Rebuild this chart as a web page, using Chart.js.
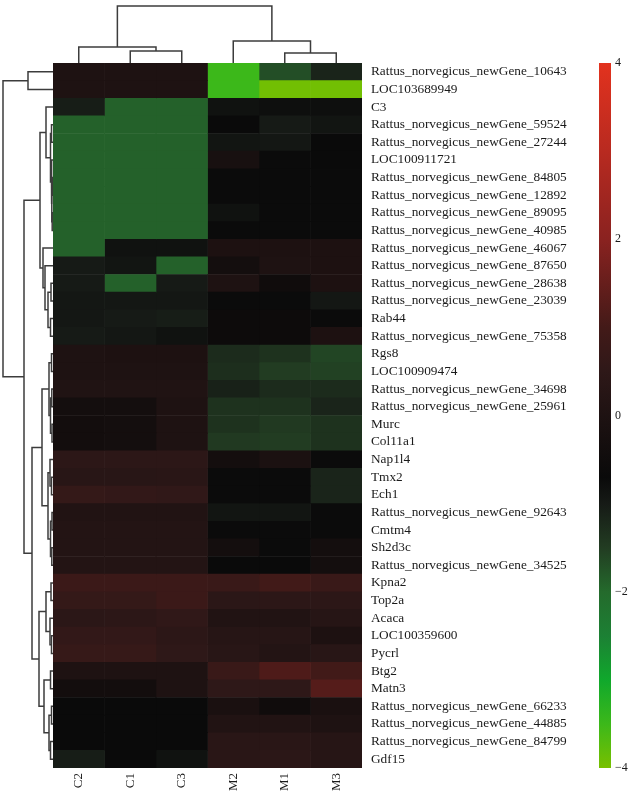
<!DOCTYPE html>
<html>
<head>
<meta charset="utf-8">
<script src="https://cdn.jsdelivr.net/npm/chart.js@4/dist/chart.umd.min.js"></script>
<style>
  html, body { margin: 0; padding: 0; background: #fff; }
  #wrap { position: relative; width: 629px; height: 791px; }
  canvas { position: absolute; }
</style>
</head>
<body>
<div id="wrap">
  <canvas id="heat" width="629" height="791" style="left:0;top:0"></canvas>
  <canvas id="rowDen" width="53" height="705" style="left:0;top:63px"></canvas>
  <canvas id="colDen" width="309" height="63" style="left:53px;top:0"></canvas>
  <canvas id="cbar" width="39" height="730" style="left:590px;top:50px"></canvas>
</div>
<script>
// columns (samples) in dendrogram order
const colNames = ['C2', 'C1', 'C3', 'M2', 'M1', 'M3'];

// genes in dendrogram order
const rowNames = [
  'Rattus_norvegicus_newGene_10643', 'LOC103689949', 'C3',
  'Rattus_norvegicus_newGene_59524', 'Rattus_norvegicus_newGene_27244', 'LOC100911721',
  'Rattus_norvegicus_newGene_84805', 'Rattus_norvegicus_newGene_12892', 'Rattus_norvegicus_newGene_89095',
  'Rattus_norvegicus_newGene_40985', 'Rattus_norvegicus_newGene_46067', 'Rattus_norvegicus_newGene_87650',
  'Rattus_norvegicus_newGene_28638', 'Rattus_norvegicus_newGene_23039', 'Rab44',
  'Rattus_norvegicus_newGene_75358', 'Rgs8', 'LOC100909474',
  'Rattus_norvegicus_newGene_34698', 'Rattus_norvegicus_newGene_25961', 'Murc',
  'Col11a1', 'Nap1l4', 'Tmx2', 'Ech1', 'Rattus_norvegicus_newGene_92643',
  'Cmtm4', 'Sh2d3c', 'Rattus_norvegicus_newGene_34525', 'Kpna2', 'Top2a',
  'Acaca', 'LOC100359600', 'Pycrl', 'Btg2', 'Matn3',
  'Rattus_norvegicus_newGene_66233', 'Rattus_norvegicus_newGene_44885',
  'Rattus_norvegicus_newGene_84799', 'Gdf15'
];

// z-scores, one row per gene: C2, C1, C3, M2, M1, M3
const values = [
  [0.0, 0.0, 0.0, -3.5, -1.7, -1.15],
  [0.0, 0.0, 0.0, -3.5, -3.95, -3.95],
  [-1.05, -1.9, -1.9, -0.85, -0.8, -0.8],
  [-1.9, -1.9, -1.9, -0.7, -1.0, -0.9],
  [-1.9, -1.9, -1.9, -0.9, -0.95, -0.7],
  [-1.9, -1.9, -1.9, -0.2, -0.72, -0.7],
  [-1.9, -1.9, -1.9, -0.72, -0.72, -0.72],
  [-1.9, -1.9, -1.9, -0.72, -0.72, -0.72],
  [-1.9, -1.9, -1.9, -0.85, -0.72, -0.72],
  [-1.9, -1.9, -1.9, -0.72, -0.72, -0.72],
  [-1.9, -0.85, -0.85, -0.05, -0.05, -0.05],
  [-1.0, -0.9, -1.9, -0.35, 0.0, -0.05],
  [-1.0, -1.9, -1.0, 0.0, -0.5, -0.05],
  [-0.95, -0.95, -0.95, -0.72, -0.72, -0.95],
  [-0.95, -1.0, -1.05, -0.6, -0.6, -0.65],
  [-1.0, -0.95, -0.85, -0.6, -0.6, -0.05],
  [0.0, -0.05, -0.05, -1.25, -1.35, -1.6],
  [0.0, 0.0, 0.0, -1.3, -1.5, -1.55],
  [0.05, 0.05, 0.05, -1.1, -1.25, -1.25],
  [-0.35, -0.35, 0.0, -1.35, -1.35, -1.15],
  [-0.4, -0.35, 0.0, -1.35, -1.45, -1.35],
  [-0.4, -0.35, 0.0, -1.45, -1.5, -1.35],
  [0.45, 0.45, 0.45, -0.35, -0.1, -0.72],
  [0.3, 0.3, 0.35, -0.72, -0.72, -1.15],
  [0.65, 0.6, 0.55, -0.72, -0.72, -1.15],
  [0.1, 0.1, 0.1, -0.9, -0.9, -0.72],
  [0.15, 0.15, 0.15, -0.72, -0.72, -0.72],
  [0.15, 0.15, 0.15, -0.35, -0.72, -0.35],
  [0.15, 0.15, 0.15, -0.7, -0.7, -0.35],
  [0.8, 0.8, 0.8, 0.75, 0.95, 0.75],
  [0.65, 0.65, 0.8, 0.4, 0.45, 0.45],
  [0.4, 0.45, 0.55, 0.1, 0.1, 0.25],
  [0.6, 0.6, 0.45, 0.25, 0.25, -0.05],
  [0.7, 0.7, 0.5, 0.3, 0.15, 0.3],
  [0.0, 0.0, 0.0, 0.75, 1.15, 0.95],
  [-0.4, -0.4, 0.0, 0.5, 0.5, 1.25],
  [-0.7, -0.7, -0.7, -0.15, -0.5, -0.15],
  [-0.7, -0.7, -0.7, 0.1, 0.1, 0.0],
  [-0.7, -0.7, -0.7, 0.35, 0.35, 0.25],
  [-1.05, -0.7, -0.85, 0.35, 0.4, 0.25]
];

// linkage: [childA, childB, height]; ids >= n are earlier merges
const colLinkage = [
  [1, 2, 12], [0, 6, 16], [4, 5, 10], [3, 8, 22], [7, 9, 57]
];
const rowLinkage = [
  [6, 7, 0.5], [8, 9, 0.8], [40, 41, 1.2], [5, 42, 1.6], [3, 4, 1.5], [44, 43, 2.5], [2, 45, 7],
  [12, 13, 2], [14, 15, 2.5], [47, 48, 5], [11, 49, 8], [10, 50, 10], [46, 51, 13],
  [16, 17, 1.5], [18, 19, 1.2], [20, 21, 1], [54, 55, 2.5], [53, 56, 4],
  [23, 24, 1.5], [22, 58, 3], [25, 26, 1], [27, 28, 1.2], [60, 61, 2.5], [59, 62, 5], [57, 63, 11],
  [29, 30, 2], [32, 33, 1.5], [31, 66, 3], [65, 67, 7],
  [34, 35, 2.5], [36, 37, 1.5], [38, 39, 2.5], [70, 71, 4], [69, 72, 9], [68, 73, 14],
  [64, 74, 21], [52, 75, 29], [0, 1, 25], [77, 76, 50]
];

// colour scale
const cmapValues = [-4, -3.5, -3, -2.5, -2, -1.5, -1, -0.7, 0, 0.5, 1, 2, 3, 4];
const cmapColors = ['#78c000', '#3cb81a', '#10a82c', '#1c8034', '#246a2c', '#223c22', '#161a16',
  '#0a0a0a', '#1e1212', '#2e1818', '#431a18', '#8a2220', '#b82a20', '#e2321e'];
const cbarTicks = [-4, -2, 0, 2, 4];

const serif = '"Liberation Serif", "DejaVu Serif", serif';
const lineColor = '#3c3c3c';

function hexToRgb(h) {
  return [1, 3, 5].map(i => parseInt(h.slice(i, i + 2), 16));
}

function colorFor(v) {
  v = Math.max(cmapValues[0], Math.min(cmapValues[cmapValues.length - 1], v));
  for (let i = 0; i < cmapValues.length - 1; i++) {
    if (v <= cmapValues[i + 1]) {
      const t = (v - cmapValues[i]) / (cmapValues[i + 1] - cmapValues[i]);
      const a = hexToRgb(cmapColors[i]), b = hexToRgb(cmapColors[i + 1]);
      const c = a.map((x, k) => Math.round(x + (b[k] - x) * t));
      return `rgb(${c[0]},${c[1]},${c[2]})`;
    }
  }
  return cmapColors[cmapColors.length - 1];
}

// turn a linkage table into U-shaped segments (leaf position, height)
function dendroSegments(linkage, nLeaves) {
  const pos = [], height = [];
  for (let i = 0; i < nLeaves; i++) { pos[i] = i + 0.5; height[i] = 0; }
  return linkage.map(([a, b, h], k) => {
    const id = nLeaves + k;
    pos[id] = (pos[a] + pos[b]) / 2;
    height[id] = h;
    return [
      { p: pos[a], h: height[a] }, { p: pos[a], h: h },
      { p: pos[b], h: h }, { p: pos[b], h: height[b] }
    ];
  });
}

Chart.defaults.animation = false;
Chart.defaults.responsive = false;
Chart.defaults.devicePixelRatio = 1;
Chart.defaults.plugins.legend.display = false;
Chart.defaults.plugins.tooltip.enabled = false;

// heatmap: one floating-bar dataset per column
new Chart(document.getElementById('heat'), {
  type: 'bar',
  data: {
    labels: rowNames,
    datasets: colNames.map((name, c) => ({
      label: name,
      data: rowNames.map(() => [c, c + 1]),
      backgroundColor: values.map(r => colorFor(r[c])),
      borderWidth: 0,
      grouped: false,
      barPercentage: 1,
      categoryPercentage: 1
    }))
  },
  options: {
    indexAxis: 'y',
    layout: { padding: { left: 53, top: 63, right: 0, bottom: 0 } },
    scales: {
      y: {
        position: 'right',
        grid: { display: false, drawTicks: false },
        border: { display: false },
        ticks: { autoSkip: false, padding: 9, color: '#1a1a1a', font: { family: serif, size: 13.3 } },
        afterFit: s => { s.width = 267; }
      },
      x: {
        type: 'linear', min: 0, max: colNames.length,
        grid: { display: false, drawTicks: false },
        border: { display: false },
        afterBuildTicks: s => { s.ticks = colNames.map((_, i) => ({ value: i + 0.5 })); },
        ticks: {
          autoSkip: false, minRotation: 90, maxRotation: 90, padding: 5,
          color: '#1a1a1a', font: { family: serif, size: 13 },
          callback: v => colNames[Math.floor(v)]
        },
        afterFit: s => { s.height = 23; }
      }
    }
  }
});

const lineDataset = pts => ({
  data: pts, showLine: true, borderColor: lineColor, borderWidth: 1.5,
  pointRadius: 0, fill: false, tension: 0
});

// row dendrogram (left)
new Chart(document.getElementById('rowDen'), {
  type: 'scatter',
  data: {
    datasets: dendroSegments(rowLinkage, rowNames.length)
      .map(seg => lineDataset(seg.map(q => ({ x: q.h, y: q.p }))))
  },
  options: {
    scales: {
      x: { type: 'linear', min: 0, max: 53, reverse: true, display: false },
      y: { type: 'linear', min: 0, max: rowNames.length, reverse: true, display: false }
    }
  }
});

// column dendrogram (top)
new Chart(document.getElementById('colDen'), {
  type: 'scatter',
  data: {
    datasets: dendroSegments(colLinkage, colNames.length)
      .map(seg => lineDataset(seg.map(q => ({ x: q.p, y: q.h }))))
  },
  options: {
    scales: {
      x: { type: 'linear', min: 0, max: colNames.length, display: false },
      y: { type: 'linear', min: 0, max: 63, display: false }
    }
  }
});

// colour bar
new Chart(document.getElementById('cbar'), {
  type: 'bar',
  data: {
    labels: [''],
    datasets: [{
      data: [[cbarTicks[0], cbarTicks[cbarTicks.length - 1]]],
      barPercentage: 1, categoryPercentage: 1, borderWidth: 0,
      backgroundColor: ctx => {
        const chart = ctx.chart;
        const ys = chart.scales.y;
        if (!chart.chartArea || !ys) return '#000';
        const lo = cmapValues[0], hi = cmapValues[cmapValues.length - 1];
        const g = chart.ctx.createLinearGradient(0, ys.getPixelForValue(lo), 0, ys.getPixelForValue(hi));
        cmapValues.forEach((v, i) => g.addColorStop((v - lo) / (hi - lo), cmapColors[i]));
        return g;
      }
    }]
  },
  options: {
    layout: { padding: { left: 9, top: 13, bottom: 12, right: 0 } },
    scales: {
      x: { display: false },
      y: {
        position: 'right', min: -4, max: 4,
        grid: { display: false, drawTicks: false },
        border: { display: false },
        afterBuildTicks: s => { s.ticks = cbarTicks.map(v => ({ value: v })); },
        ticks: {
          padding: 4, color: '#1a1a1a', font: { family: serif, size: 12 },
          callback: v => String(v).replace('-', '\u2212')
        },
        afterFit: s => { s.width = 18; }
      }
    }
  }
});
</script>
</body>
</html>
